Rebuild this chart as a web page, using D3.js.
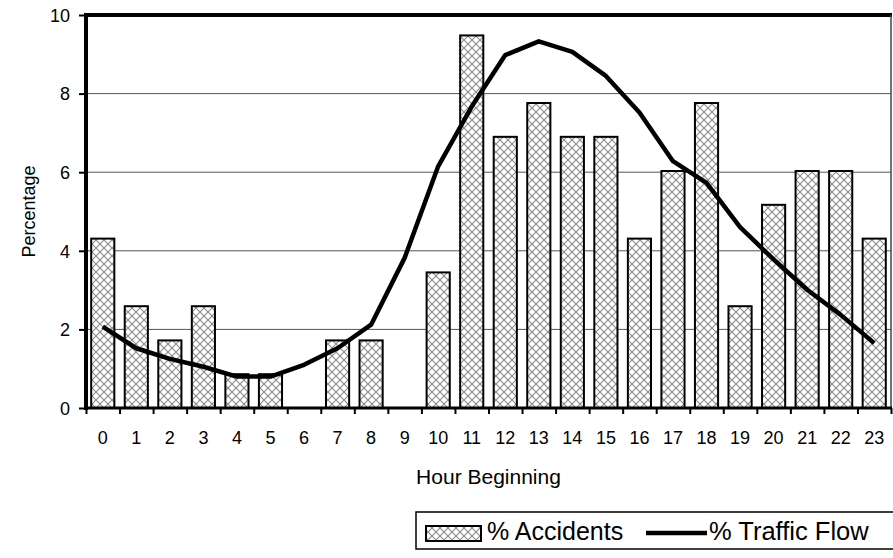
<!DOCTYPE html>
<html>
<head>
<meta charset="utf-8">
<script src="https://cdn.jsdelivr.net/npm/d3@7"></script>
<style>
  html, body { margin: 0; padding: 0; background: #fff; }
  svg { display: block; }
  text { font-family: Arial, "Liberation Sans", sans-serif; fill: #000; }
</style>
</head>
<body>
<svg id="chart" width="893" height="558"></svg>
<script>
// ---- data ----
const hours = ["0","1","2","3","4","5","6","7","8","9","10","11","12","13","14","15","16","17","18","19","20","21","22","23"];
const accidents = [4.31,2.59,1.72,2.59,0.86,0.86,0,1.72,1.72,0,3.45,9.48,6.90,7.76,6.90,6.90,4.31,6.03,7.76,2.59,5.17,6.03,6.03,4.31];
const trafficFlow = [2.07,1.52,1.25,1.05,0.80,0.80,1.10,1.52,2.12,3.82,6.15,7.67,8.98,9.33,9.06,8.45,7.52,6.28,5.73,4.60,3.78,3.01,2.37,1.65];
const yTicks = [0,2,4,6,8,10];
const seriesNames = ["% Accidents", "% Traffic Flow"];
const xTitle = "Hour Beginning";
const yTitle = "Percentage";

// ---- layout ----
const L = 86, R = 891, T = 15, B = 408;
const svg = d3.select("#chart");

const defs = svg.append("defs");
const pat = defs.append("pattern").attr("id","hatch")
  .attr("patternUnits","userSpaceOnUse").attr("width",8).attr("height",8);
pat.append("rect").attr("width",8).attr("height",8).attr("fill","#fff");
pat.append("path").attr("d","M0,0 L8,8 M8,0 L0,8")
  .attr("stroke","#8a8a8a").attr("stroke-width",1.1).attr("fill","none");

const x = d3.scaleBand().domain(hours).range([L, R]).paddingInner(0.31).paddingOuter(0.155);
const xEdge = d3.scaleLinear().domain([0, hours.length]).range([L, R]);
const y = d3.scaleLinear().domain([0, 10]).range([B, T]);

// gridlines
svg.append("g").selectAll("line").data(yTicks.filter(t => t > 0 && t < 10)).join("line")
  .attr("x1", L).attr("x2", R).attr("y1", d => y(d)).attr("y2", d => y(d))
  .attr("stroke", "#555").attr("stroke-width", 1);

// bars
svg.append("g").selectAll("rect").data(hours.map((h,i)=>({h, v: accidents[i]})).filter(d => d.v > 0)).join("rect")
  .attr("x", d => x(d.h)).attr("width", x.bandwidth())
  .attr("y", d => y(d.v)).attr("height", d => B - y(d.v))
  .attr("fill", "url(#hatch)").attr("stroke", "#000").attr("stroke-width", 2);

// line
const line = d3.line().x((d,i) => x(hours[i]) + x.bandwidth()/2).y(d => y(d));
svg.append("path").datum(trafficFlow).attr("d", line)
  .attr("fill","none").attr("stroke","#000").attr("stroke-width",4.5)
  .attr("stroke-linejoin","round");

// frame: top thick, right thin
svg.append("line").attr("x1", L-2).attr("x2", R+1).attr("y1", T).attr("y2", T)
  .attr("stroke","#000").attr("stroke-width",4);
svg.append("line").attr("x1", R).attr("x2", R).attr("y1", T).attr("y2", B)
  .attr("stroke","#444").attr("stroke-width",1.5);

// y axis
const yAxis = svg.append("g").attr("transform", `translate(${L},0)`)
  .call(d3.axisLeft(y).tickValues(yTicks).tickSize(7).tickPadding(9).tickFormat(d3.format("d")));
yAxis.select(".domain").attr("stroke","#000").attr("stroke-width",4).attr("d", `M0,${T-2}V${B+2}`);
yAxis.selectAll(".tick line").attr("stroke","#000").attr("stroke-width",2);
yAxis.selectAll("text").style("font-size","18px").attr("dy","0.35em");

// x axis: tick marks at edges
const xAxisTicks = svg.append("g").attr("transform", `translate(0,${B})`)
  .call(d3.axisBottom(xEdge).tickValues(d3.range(hours.length + 1)).tickSize(6).tickFormat(""));
xAxisTicks.select(".domain").attr("stroke","#000").attr("stroke-width",3).attr("d", `M${L-2},0H${R+1}`);
xAxisTicks.selectAll(".tick line").attr("stroke","#000").attr("stroke-width",2);

// x labels
const xAxisLabels = svg.append("g").attr("transform", `translate(0,${B})`)
  .call(d3.axisBottom(x).tickSize(0).tickPadding(23));
xAxisLabels.select(".domain").remove();
xAxisLabels.selectAll("text").style("font-size","18px");

// titles
svg.append("text").attr("x", (L+R)/2).attr("y", 484).attr("text-anchor","middle")
  .style("font-size","21px").text(xTitle);
svg.append("text").attr("transform", `translate(35,${(T+B)/2}) rotate(-90)`)
  .attr("text-anchor","middle").style("font-size","18px").text(yTitle);

// legend
const lg = svg.append("g");
lg.append("rect").attr("x",416).attr("y",512).attr("width",490).attr("height",37)
  .attr("fill","#fff").attr("stroke","#000").attr("stroke-width",1.5);
lg.append("rect").attr("x",426).attr("y",526).attr("width",55).attr("height",15)
  .attr("fill","url(#hatch)").attr("stroke","#000").attr("stroke-width",2);
lg.append("text").attr("x",487).attr("y",540).style("font-size","25px").text(seriesNames[0]);
lg.append("line").attr("x1",646).attr("x2",707).attr("y1",533).attr("y2",533)
  .attr("stroke","#000").attr("stroke-width",4.5);
lg.append("text").attr("x",709).attr("y",540).style("font-size","25.5px").text(seriesNames[1]);
</script>
</body>
</html>
